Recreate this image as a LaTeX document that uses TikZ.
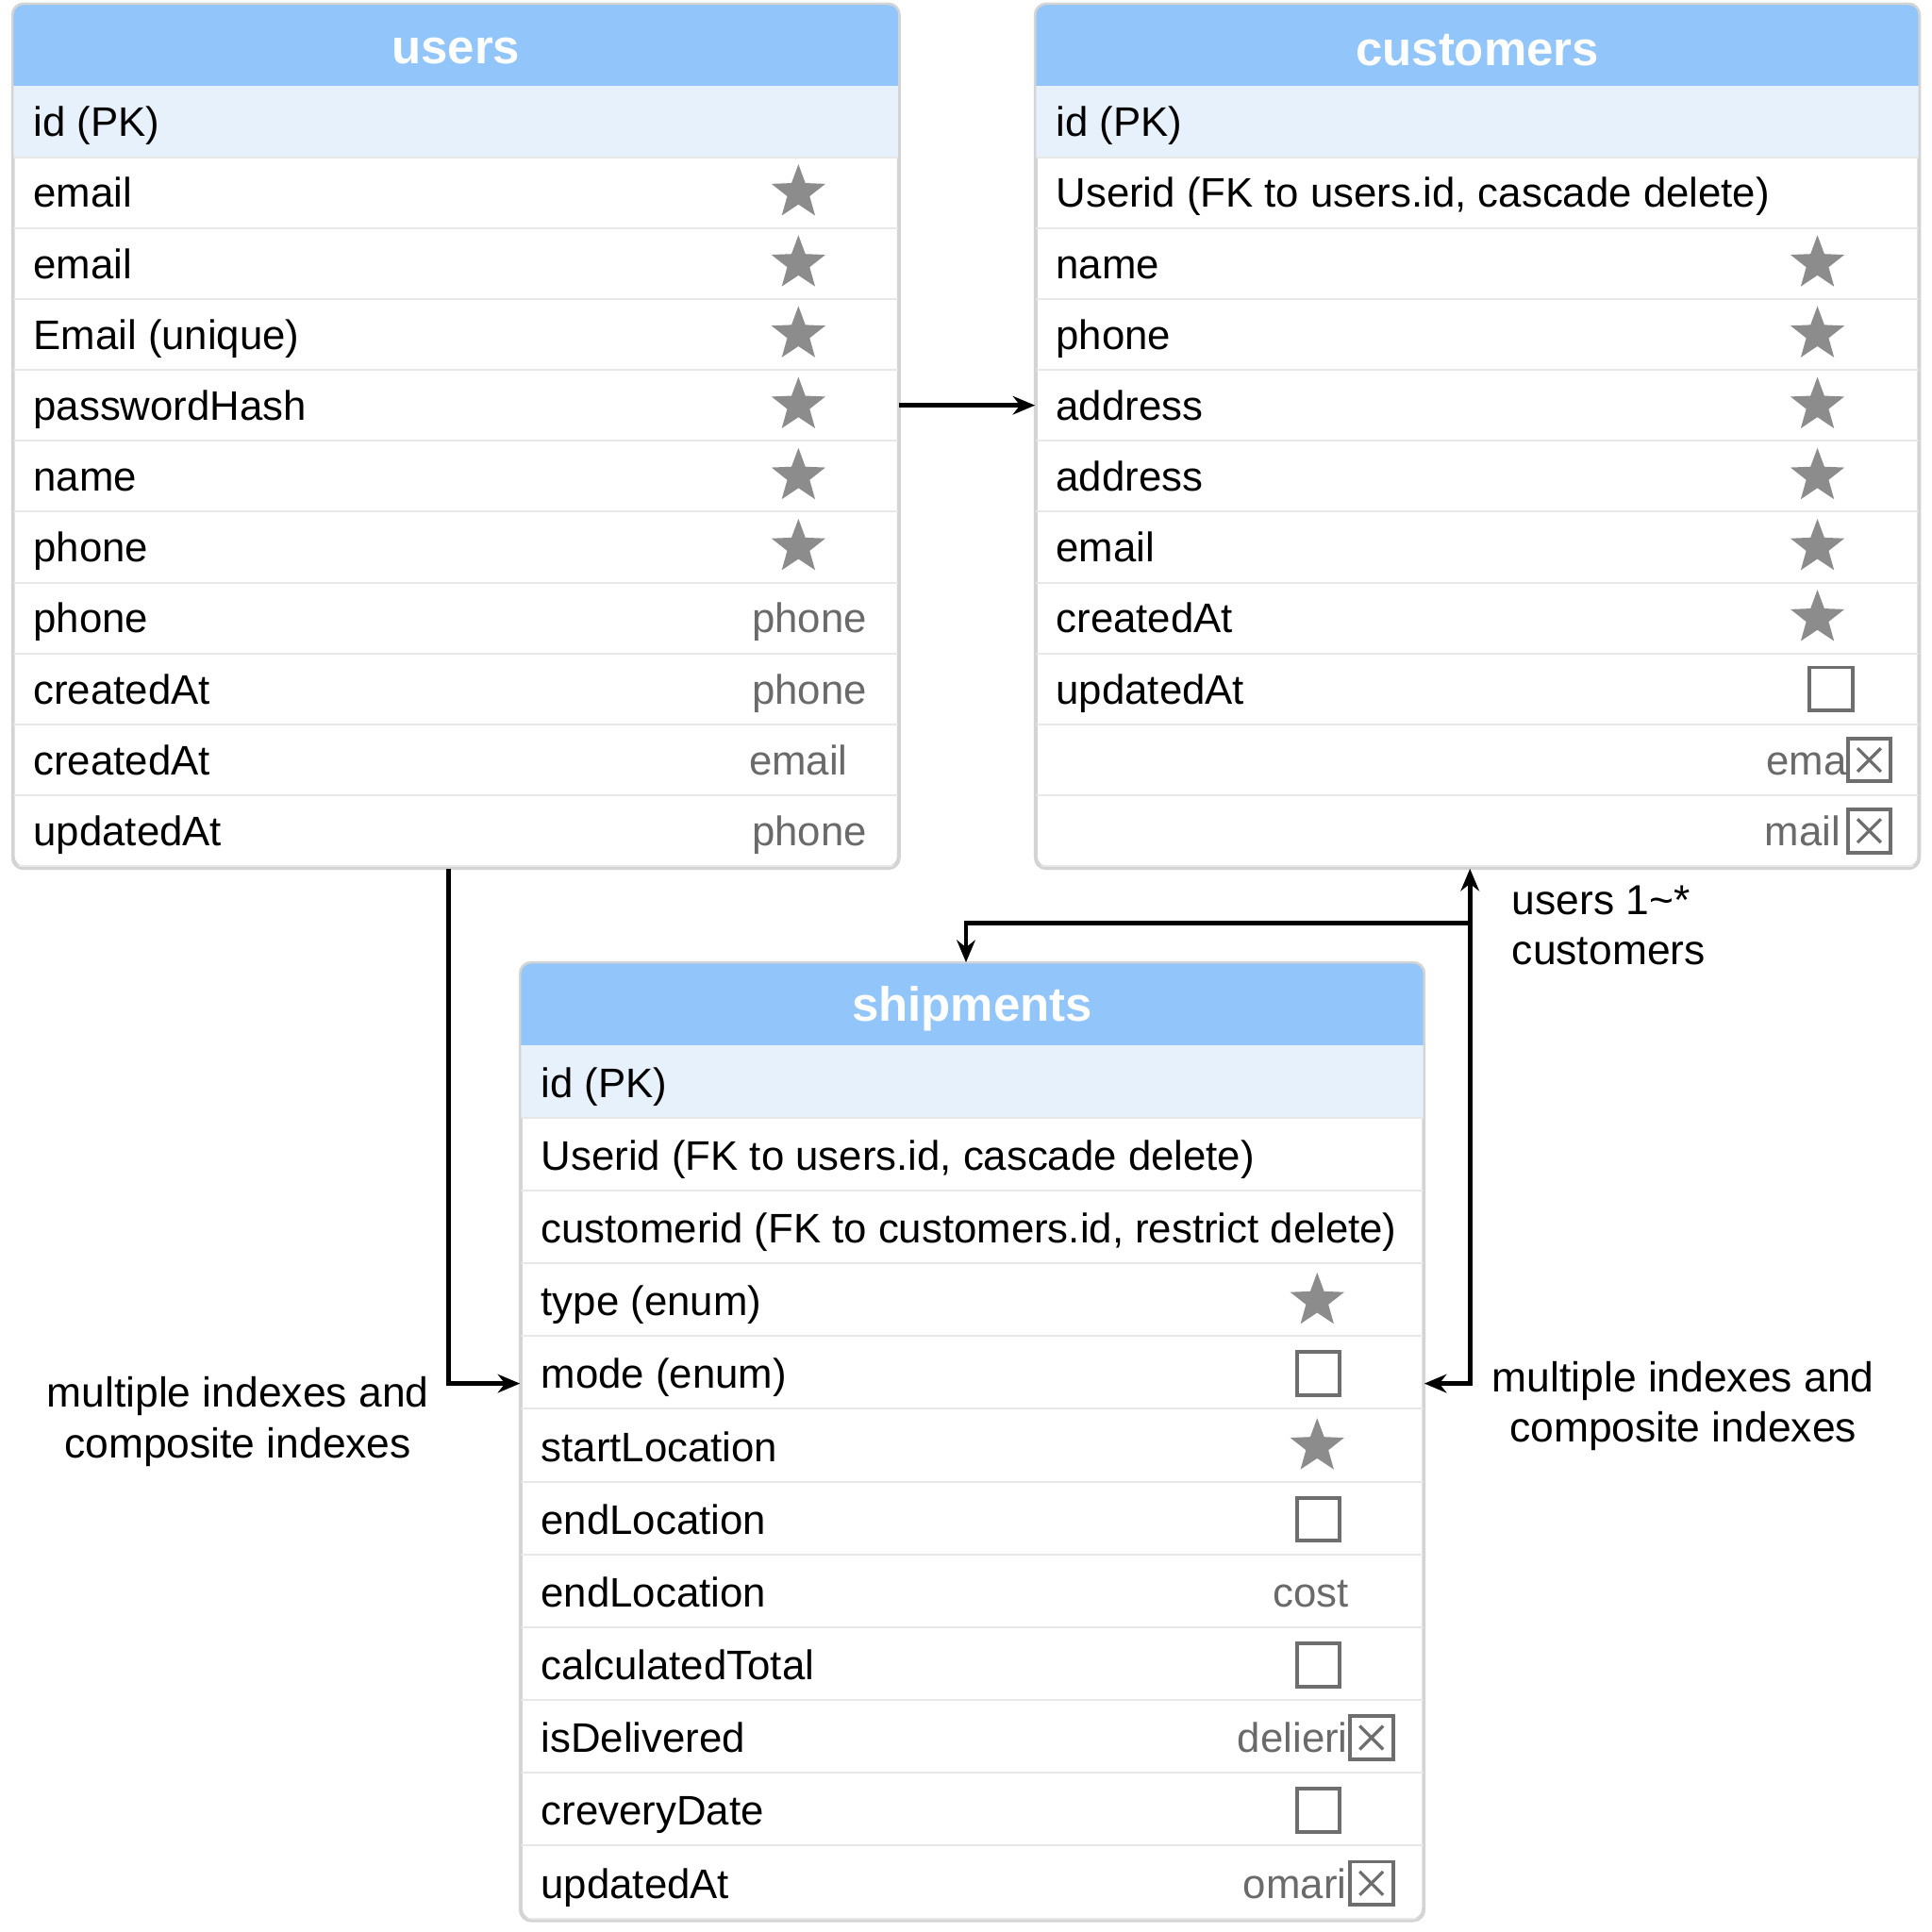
\documentclass[tikz,border=0pt]{standalone}
\usepackage{fontspec}
\setmainfont{Liberation Sans}
\usetikzlibrary{positioning,calc,shapes.geometric,arrows.meta}

\definecolor{hdrblue}{HTML}{92C5F9}
\definecolor{idblue}{HTML}{E7F1FB}
\definecolor{tblline}{HTML}{D4D4D4}
\definecolor{rowline}{HTML}{E8E8E8}
\definecolor{icongray}{HTML}{8C8C8C}
\definecolor{boxgray}{HTML}{6E6E6E}
\definecolor{softgray}{HTML}{6A6A6A}

\tikzset{
  tbl/.style={draw=tblline,line width=2pt,rounded corners=9pt,fill=white,inner sep=0pt,anchor=north west},
  hdr/.style={text=white,inner sep=0pt,font=\fontsize{39}{45}\selectfont\bfseries},
  fld/.style={anchor=west,inner sep=0pt,font=\fontsize{33.5}{40}\selectfont,text height=28pt,text depth=4pt},
  note/.style={inner sep=0pt,font=\fontsize{33.5}{40}\selectfont,text=softgray,text height=28pt,text depth=4pt},
  starico/.style={star,star points=5,star point ratio=2.4,fill=icongray,inner sep=0pt,minimum size=46pt},
  boxico/.style={draw=boxgray,line width=3pt,inner sep=0pt,minimum size=35pt,fill=white},
  chkico/.style={boxico,path picture={
    \draw[boxgray,line width=2.5pt]
      ([shift={(8pt,8pt)}]path picture bounding box.south west) -- ([shift={(-8pt,-8pt)}]path picture bounding box.north east)
      ([shift={(8pt,-8pt)}]path picture bounding box.north west) -- ([shift={(-8pt,8pt)}]path picture bounding box.south east);}},
  conn/.style={line width=3.5pt,-{Stealth[length=18pt,width=15pt]}},
  lbl/.style={inner sep=0pt,align=center,font=\fontsize{34}{41}\selectfont}
}

% name, x, y, width, rows, row height, title
\newcommand\erdtable[7]{%
  \node[tbl,minimum width=#4pt,minimum height={67pt+#5*#6pt}] (#1) at (#2,#3) {};
  \begin{scope}
    \clip[rounded corners=9pt] (#1.north west) rectangle (#1.south east);
    \fill[hdrblue] (#1.north west) rectangle ([yshift=-67pt]#1.north east);
    \fill[idblue] ([yshift=-67pt]#1.north west) rectangle ([yshift={-67pt-#6pt}]#1.north east);
    \foreach \i in {1,...,#5}
      \draw[rowline,line width=1.5pt] ([yshift={-67pt-\i*#6pt}]#1.north west) -- ([yshift={-67pt-\i*#6pt}]#1.north east);
  \end{scope}
  \draw[tblline,line width=2pt,rounded corners=9pt] (#1.north west) rectangle (#1.south east);
  \node[hdr] (#1-title) at ([yshift=-38pt]#1.north) {#7};
}

\begin{document}
\begin{tikzpicture}[x=1pt,y=-1pt]
\useasboundingbox[fill=white] (0,0) rectangle (1568,1568);

\erdtable{users}{10}{3}{718}{11}{57.55}{users}
\erdtable{customers}{840}{3}{716}{11}{57.55}{customers}
\erdtable{ship}{422}{781}{732}{12}{59.08}{shipments}

\foreach \t [count=\i] in {id (PK),email,email,Email (unique),passwordHash,name,phone,phone,createdAt,createdAt,updatedAt}
  \node[fld] (u\i) at (27,{70+(\i-.5)*57.55}) {\t};
\foreach \r in {2,...,7}
  \node[starico] (us\r) at (648,{70+(\r-.5)*57.55}) {};
\foreach \r/\t/\x in {8/phone/657,9/phone/657,10/email/648,11/phone/657}
  \node[note] (un\r) at (\x,{70+(\r-.5)*57.55}) {\t};

\foreach \t [count=\i] in {id (PK),{Userid (FK to users.id, cascade delete)},name,phone,address,address,email,createdAt,updatedAt}
  \node[fld] (c\i) at (857,{70+(\i-.5)*57.55}) {\t};
\foreach \r in {3,...,8}
  \node[starico] (cs\r) at (1475,{70+(\r-.5)*57.55}) {};
\node[boxico] (cb9) at (1486,{70+8.5*57.55}) {};
\node[chkico] (cb10) at (1517,{70+9.5*57.55}) {};
\node[note,anchor=east] (cn10) at (1499,{70+9.5*57.55}) {ema};
\node[chkico] (cb11) at (1517,{70+10.5*57.55}) {};
\node[note,anchor=east] (cn11) at (1494,{70+10.5*57.55}) {mail};

\foreach \t [count=\i] in {id (PK),{Userid (FK to users.id, cascade delete)},{customerid (FK to customers.id, restrict delete)},type (enum),mode (enum),startLocation,endLocation,endLocation,calculatedTotal,isDelivered,creveryDate,updatedAt}
  \node[fld] (s\i) at (439,{849+(\i-.5)*59.08}) {\t};
\foreach \r in {4,6}
  \node[starico] (ss\r) at (1069,{849+(\r-.5)*59.08}) {};
\foreach \r in {5,7,9,11}
  \node[boxico] (sb\r) at (1070,{849+(\r-.5)*59.08}) {};
\node[note] (sn8) at (1064,{849+7.5*59.08}) {cost};
\node[chkico] (sb10) at (1113,{849+9.5*59.08}) {};
\node[note,anchor=east] (sn10) at (1094,{849+9.5*59.08}) {delieri};
\node[chkico] (sb12) at (1113,{849+11.5*59.08}) {};
\node[note,anchor=east] (sn12) at (1093,{849+11.5*59.08}) {omari};

\draw[conn] (u5.east -| users.east) -- (c5.west -| customers.west);
\draw[conn] ([xshift=-6pt]users.south) |- ($(s5.west -| ship.west)+(0,8)$);
\draw[conn,{Stealth[length=18pt,width=15pt]}-{Stealth[length=18pt,width=15pt]}] ($(s5.east -| ship.east)+(0,8)$) -| ([xshift=-6pt]customers.south);
\coordinate (jn) at ($(customers.south)+(-6,44)$);
\draw[conn] (jn) -| ([xshift=-5pt]ship.north);

\node[lbl,align=left,anchor=west] (card) at (1227,751) {users 1\textasciitilde*\\customers};
\node[lbl] (lidx) at (193,1154) {multiple indexes and\\composite indexes};
\node[lbl] (ridx) at (1366,1141) {multiple indexes and\\composite indexes};
\end{tikzpicture}
\end{document}
